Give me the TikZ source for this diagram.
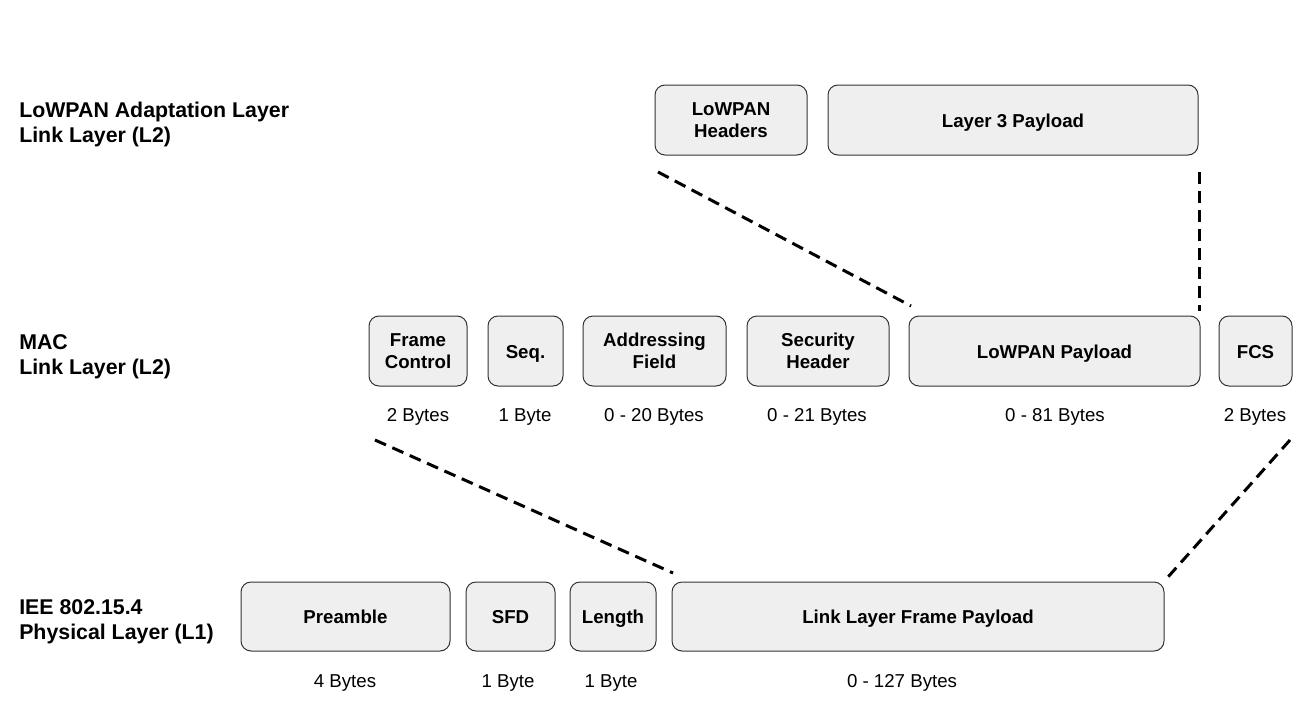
\documentclass[tikz,border=0pt]{standalone}
\usepackage{fontspec}
\setmainfont{Liberation Sans}
\newlength{\px}
\setlength{\px}{0.75pt}
\definecolor{boxfill}{rgb}{0.937, 0.937, 0.937}
\definecolor{boxline}{rgb}{0.200, 0.200, 0.200}
\tikzset{
  fieldbox/.style={draw=boxline, fill=boxfill, line width=1\px, rounded corners=10\px,
    align=center, inner sep=0pt, minimum height=70\px,
    font=\fontsize{14}{16.5}\selectfont\bfseries},
  oneline/.style={text height=11pt, text depth=0pt},
  bytes/.style={inner sep=0pt, font=\fontsize{14}{16}\selectfont},
  layername/.style={anchor=west, align=left, inner sep=0pt,
    font=\fontsize{16}{18.75}\selectfont\bfseries},
  mapline/.style={line width=3\px, dash pattern=on 12\px off 7\px}
}
\begin{document}
\begin{tikzpicture}[x=\px, y=-\px]
\useasboundingbox (0,0) rectangle (1312,710);
% layer names
\node[layername] (adapt) at (19,124.5) {LoWPAN Adaptation Layer\\Link Layer (L2)};
\node[layername] (mac) at (19,356.5) {MAC\\Link Layer (L2)};
\node[layername] (phy) at (19,622) {IEE 802.15.4\\Physical Layer (L1)};
% adaptation layer
\node[fieldbox, minimum width=152\px] (hdr) at (731,120) {LoWPAN\\Headers};
\node[fieldbox, oneline, minimum width=370\px] (l3) at (1013,120) {Layer 3 Payload};
% mac frame
\node[fieldbox, minimum width=98\px] (fc) at (418,351) {Frame\\Control};
\node[fieldbox, oneline, minimum width=75\px] (seq) at (525.5,351) {Seq.};
\node[fieldbox, minimum width=143\px] (addr) at (654.5,351) {Addressing\\Field};
\node[fieldbox, minimum width=142\px] (sec) at (818,351) {Security\\Header};
\node[fieldbox, oneline, minimum width=291\px] (pay) at (1054.5,351) {LoWPAN Payload};
\node[fieldbox, oneline, minimum width=73\px] (fcs) at (1255.5,351) {FCS};
\node[bytes] (fcB) at (418,417) {2 Bytes};
\node[bytes] (seqB) at (525,417) {1 Byte};
\node[bytes] (addrB) at (654,417) {0 - 20 Bytes};
\node[bytes] (secB) at (817,417) {0 - 21 Bytes};
\node[bytes] (payB) at (1055,417) {0 - 81 Bytes};
\node[bytes] (fcsB) at (1255,417) {2 Bytes};
% physical frame
\node[fieldbox, oneline, minimum width=209\px, minimum height=69\px] (pre) at (345.5,616.5) {Preamble};
\node[fieldbox, oneline, minimum width=89\px, minimum height=69\px] (sfd) at (510.5,616.5) {SFD};
\node[fieldbox, oneline, minimum width=86\px, minimum height=69\px] (len) at (613,616.5) {Length};
\node[fieldbox, oneline, minimum width=492\px, minimum height=69\px] (llp) at (918,616.5) {Link Layer Frame Payload};
\node[bytes] (preB) at (345,683) {4 Bytes};
\node[bytes] (sfdB) at (508,683) {1 Byte};
\node[bytes] (lenB) at (611,683) {1 Byte};
\node[bytes] (llpB) at (902,683) {0 - 127 Bytes};
% mapping lines
\coordinate (hdrL) at (658,172);
\coordinate (payL) at (911,306);
\coordinate (l3R) at (1199,172);
\coordinate (payR) at (1199,311);
\coordinate (fcL) at (375,440);
\coordinate (llpL) at (673,573);
\coordinate (fcsR) at (1290,440);
\coordinate (llpR) at (1168,577);
\draw[mapline] (hdrL) -- (payL);
\draw[mapline] (l3R) -- (payR);
\draw[mapline] (fcL) -- (llpL);
\draw[mapline] (fcsR) -- (llpR);
\end{tikzpicture}
\end{document}
